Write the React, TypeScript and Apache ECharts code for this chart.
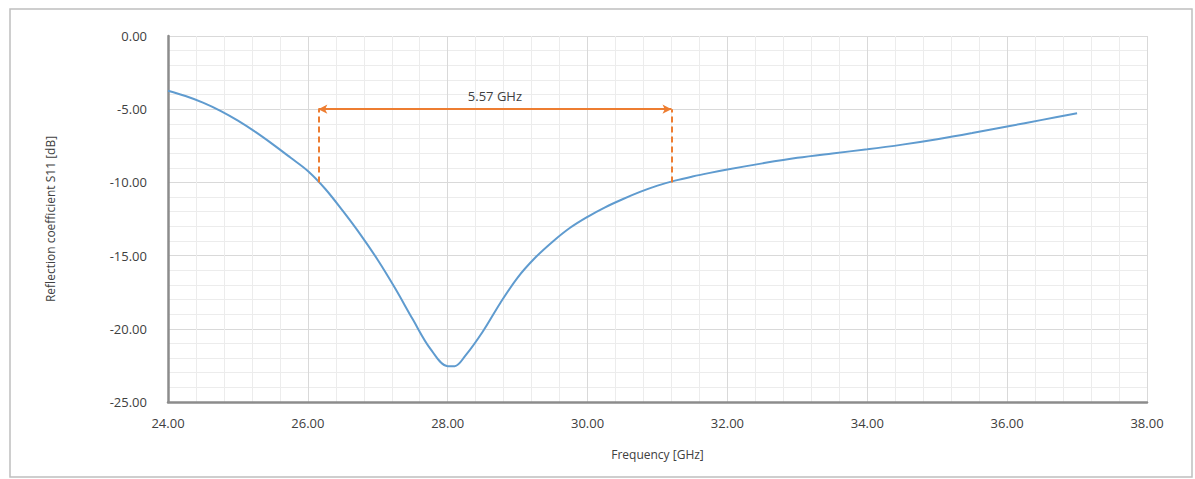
import React, { useEffect, useRef } from "react";
import * as echarts from "echarts";

const freqGHz = [
  24.0, 24.25, 24.5, 24.75, 25.0, 25.25, 25.5, 25.75, 26.0, 26.25, 26.5, 26.75,
  27.0, 27.25, 27.5, 27.75, 28.0, 28.1, 28.25, 28.5, 28.75, 29.0, 29.25, 29.5,
  29.75, 30.0, 30.25, 30.5, 30.75, 31.0, 31.25, 31.5, 31.75, 32.0, 32.5, 33.0,
  33.5, 34.0, 34.5, 35.0, 35.5, 36.0, 36.5, 37.0,
];
const s11dB = [
  -3.74, -4.1, -4.55, -5.11, -5.78, -6.55, -7.4, -8.3, -9.22, -10.45, -11.95, -13.55,
  -15.3, -17.25, -19.35, -21.35, -22.55, -22.55, -21.85, -20.2, -18.25, -16.5, -15.15, -14.05,
  -13.1, -12.35, -11.7, -11.15, -10.65, -10.22, -9.88, -9.6, -9.35, -9.12, -8.7, -8.32,
  -8.02, -7.74, -7.42, -7.05, -6.63, -6.18, -5.73, -5.28,
];
const bandEdges = [26.15, 31.2];
const bandLevels = [-10, -5];
const bandLabel = "5.57 GHz";
const xTicks = { min: 24, max: 38, interval: 2 };
const yTicks = { min: -25, max: 0, interval: 5 };

export default function App() {
  const ref = useRef<HTMLDivElement>(null);
  useEffect(() => {
    document.body.style.margin = "0";
    const chart = echarts.init(ref.current!, null, { renderer: "svg" });
    const font = "'Open Sans', 'Liberation Sans', sans-serif";
    const labelColor = "#404040";
    const orange = "#ED7D31";
    chart.setOption({
      animation: false,
      backgroundColor: "#ffffff",
      textStyle: { fontFamily: font },
      graphic: [
        {
          type: "rect",
          shape: { x: 10, y: 9, width: 1182, height: 468 },
          style: { fill: "none", stroke: "#bfbfbf", lineWidth: 1.5 },
          silent: true,
          z: -10,
        },
      ],
      grid: { left: 168, right: 48, top: 36, bottom: 77 },
      xAxis: {
        type: "value",
        min: xTicks.min,
        max: xTicks.max,
        interval: xTicks.interval,
        name: "Frequency [GHz]",
        nameLocation: "middle",
        nameGap: 46,
        nameTextStyle: { color: labelColor, fontSize: 12, fontFamily: font },
        axisLine: { show: true, onZero: false, lineStyle: { color: "#8c8c8c", width: 2.5 } },
        axisTick: { show: false },
        axisLabel: {
          color: labelColor,
          fontSize: 13,
          margin: 14,
          formatter: (v: number) => v.toFixed(2),
        },
        splitLine: { show: true, lineStyle: { color: "#d9d9d9", width: 1 } },
        minorTick: { show: false, splitNumber: 5 },
        minorSplitLine: { show: true, lineStyle: { color: "#ececec", width: 1 } },
      },
      yAxis: {
        type: "value",
        min: yTicks.min,
        max: yTicks.max,
        interval: yTicks.interval,
        name: "Reflection coefficient S11 [dB]",
        nameLocation: "middle",
        nameGap: 112,
        nameTextStyle: { color: labelColor, fontSize: 12, fontFamily: font },
        axisLine: { show: true, onZero: false, lineStyle: { color: "#8c8c8c", width: 2.5 } },
        axisTick: { show: false },
        axisLabel: {
          color: labelColor,
          fontSize: 13,
          margin: 21,
          formatter: (v: number) => v.toFixed(2),
        },
        splitLine: { show: true, lineStyle: { color: "#d9d9d9", width: 1 } },
        minorTick: { show: false, splitNumber: 5 },
        minorSplitLine: { show: true, lineStyle: { color: "#ececec", width: 1 } },
      },
      series: [
        {
          type: "line",
          name: "S11",
          data: freqGHz.map((f, i) => [f, s11dB[i]]),
          smooth: 0.35,
          showSymbol: false,
          lineStyle: { color: "#5f9bcf", width: 2 },
          itemStyle: { color: "#5f9bcf" },
          z: 3,
        },
        {
          type: "line",
          name: "edges",
          data: [],
          markLine: {
            silent: true,
            symbol: ["none", "none"],
            label: { show: false },
            lineStyle: { color: orange, type: [6, 4], width: 2 },
            data: bandEdges.map((f) => [
              { coord: [f, bandLevels[0]] },
              { coord: [f, bandLevels[1]] },
            ]),
          },
          z: 2,
        },
        {
          type: "line",
          name: "bandwidth",
          data: [],
          markLine: {
            silent: true,
            symbol: ["arrow", "arrow"],
            symbolSize: [7, 9],
            lineStyle: { color: orange, type: "solid", width: 2 },
            label: {
              show: true,
              position: "middle",
              formatter: bandLabel,
              color: labelColor,
              fontSize: 13,
              fontFamily: font,
              distance: 7,
            },
            data: [
              [
                { coord: [bandEdges[0], bandLevels[1]] },
                { coord: [bandEdges[1], bandLevels[1]] },
              ],
            ],
          },
          z: 4,
        },
      ],
    });
    return () => chart.dispose();
  }, []);
  return <div ref={ref} style={{ width: 1195, height: 479 }} />;
}
